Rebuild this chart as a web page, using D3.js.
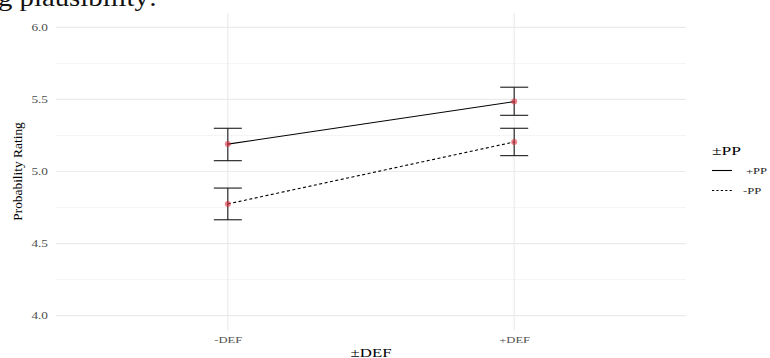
<!DOCTYPE html>
<html>
<head>
<meta charset="utf-8">
<script src="https://cdn.jsdelivr.net/npm/d3@7"></script>
<style>
  body { margin: 0; background: #fff; }
  svg text { font-family: "Liberation Serif", "DejaVu Serif", serif; }
</style>
</head>
<body>
<script>
// data
const defLevels = ['-DEF', '+DEF']
const ppLevels = ['+PP', '-PP']
const meanPlusPP = [5.19, 5.485]
const meanMinusPP = [4.775, 5.205]
const lowPlusPP = [5.075, 5.39]
const highPlusPP = [5.30, 5.585]
const lowMinusPP = [4.665, 5.11]
const highMinusPP = [4.885, 5.30]
const yTicks = [4.0, 4.5, 5.0, 5.5, 6.0]
const yMinor = [4.25, 4.75, 5.25, 5.75]

const series = [
  { pp: ppLevels[0], mean: meanPlusPP, low: lowPlusPP, high: highPlusPP, dash: null },
  { pp: ppLevels[1], mean: meanMinusPP, low: lowMinusPP, high: highMinusPP, dash: '3,2.5' }
]

const width = 770
const height = 358
const panel = { left: 56, right: 686, top: 13, bottom: 330 }
// the picture's text is wider than normal Times, stretch it sideways
const stretch = 1.4

const svg = d3.select('body')
  .append('svg')
  .attr('width', width)
  .attr('height', height)

// helper: text placed at (x, y), stretched horizontally round its anchor
const addText = (parent, x, y, str, size, anchor) => parent.append('text')
  .attr('transform', `translate(${x}, ${y}) scale(${stretch}, 1)`)
  .attr('text-anchor', anchor || 'start')
  .attr('font-size', size)
  .text(str)

// cut-off text from the page above
svg.append('text')
  .attr('transform', 'translate(-2, 6) scale(1.15, 1)')
  .attr('font-size', 25)
  .attr('fill', '#111')
  .text('g plausibility:')

// scales
const x = d3.scalePoint()
  .domain(defLevels)
  .range([panel.left, panel.right])
  .padding(0.6)

const y = d3.scaleLinear()
  .domain([3.9, 6.1])
  .range([panel.bottom, panel.top])

// grid
const grid = svg.append('g')
grid.selectAll('.minor')
  .data(yMinor)
  .enter()
  .append('line')
  .attr('x1', panel.left).attr('x2', panel.right)
  .attr('y1', d => y(d)).attr('y2', d => y(d))
  .attr('stroke', '#f1f1f1').attr('stroke-width', 0.8)
grid.selectAll('.major')
  .data(yTicks)
  .enter()
  .append('line')
  .attr('x1', panel.left).attr('x2', panel.right)
  .attr('y1', d => y(d)).attr('y2', d => y(d))
  .attr('stroke', '#ebebeb').attr('stroke-width', 1.2)
grid.selectAll('.vmajor')
  .data(defLevels)
  .enter()
  .append('line')
  .attr('x1', d => x(d)).attr('x2', d => x(d))
  .attr('y1', panel.top).attr('y2', panel.bottom)
  .attr('stroke', '#ebebeb').attr('stroke-width', 1.2)

// axes
const yAxis = svg.append('g')
  .attr('transform', `translate(${panel.left}, 0)`)
  .call(d3.axisLeft(y).tickValues(yTicks).tickFormat(d3.format('.1f')).tickSize(0))
yAxis.select('.domain').remove()
yAxis.selectAll('text')
  .attr('x', 0)
  .attr('dy', '0.34em')
  .attr('transform', `translate(-8, 0) scale(${stretch}, 1)`)
  .attr('fill', '#4d4d4d')
  .attr('font-size', 9.5)
  .style('font-family', '"Liberation Serif", serif')

const xAxis = svg.append('g')
  .attr('transform', `translate(0, ${panel.bottom})`)
  .call(d3.axisBottom(x).tickSize(0))
xAxis.select('.domain').remove()
xAxis.selectAll('text')
  .attr('y', 0)
  .attr('dy', 0)
  .attr('transform', `translate(0, 13) scale(${stretch}, 1)`)
  .attr('fill', '#4d4d4d')
  .attr('font-size', 9)
  .style('font-family', '"Liberation Serif", serif')

// axis titles
addText(svg, (panel.left + panel.right) / 2, 356.5, '\u00b1DEF', 12, 'middle')

svg.append('text')
  .attr('transform', `translate(22, ${(panel.top + panel.bottom) / 2}) rotate(-90)`)
  .attr('text-anchor', 'middle')
  .attr('font-size', 13.4)
  .text('Probability Rating')

// lines
const line = d3.line()
  .x((d, i) => x(defLevels[i]))
  .y(d => y(d))

svg.selectAll('.series-line')
  .data(series)
  .enter()
  .append('path')
  .attr('d', d => line(d.mean))
  .attr('fill', 'none')
  .attr('stroke', '#000')
  .attr('stroke-width', 1.1)
  .attr('stroke-dasharray', d => d.dash)

// error bars
const barHalf = 14
series.forEach(s => {
  const g = svg.append('g').attr('stroke', '#1a1a1a').attr('stroke-width', 1.1)
  defLevels.forEach((lvl, i) => {
    const cx = x(lvl)
    g.append('line').attr('x1', cx).attr('x2', cx).attr('y1', y(s.low[i])).attr('y2', y(s.high[i]))
    g.append('line').attr('x1', cx - barHalf).attr('x2', cx + barHalf).attr('y1', y(s.low[i])).attr('y2', y(s.low[i]))
    g.append('line').attr('x1', cx - barHalf).attr('x2', cx + barHalf).attr('y1', y(s.high[i])).attr('y2', y(s.high[i]))
  })
  svg.append('g')
    .selectAll('circle')
    .data(s.mean)
    .enter()
    .append('circle')
    .attr('cx', (d, i) => x(defLevels[i]))
    .attr('cy', d => y(d))
    .attr('r', 3)
    .attr('fill', '#e0303f')
    .attr('fill-opacity', 0.6)
})

// legend
const legend = svg.append('g').attr('transform', 'translate(712, 0)')
addText(legend, 0, 155, '\u00b1PP', 12.5)
const keys = legend.selectAll('.key')
  .data(series)
  .enter()
  .append('g')
  .attr('transform', (d, i) => `translate(0, ${170.5 + i * 20})`)
keys.append('line')
  .attr('x1', 0).attr('x2', 20)
  .attr('stroke', '#000').attr('stroke-width', 1.1)
  .attr('stroke-dasharray', d => d.dash ? '2.2,2.2' : null)
keys.each(function (d) {
  addText(d3.select(this), d.dash ? 31 : 34, 3, d.pp, 9).attr('fill', '#222')
})
</script>
</body>
</html>
